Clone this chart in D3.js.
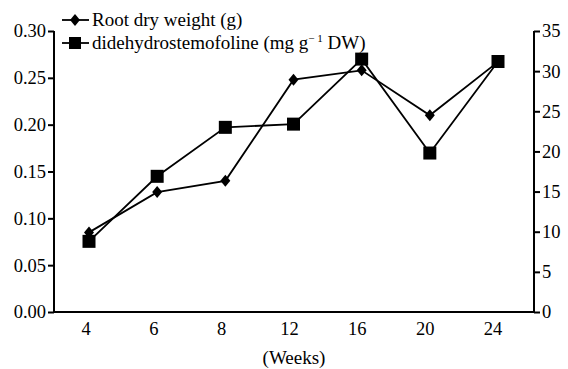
<!DOCTYPE html>
<html>
<head>
<meta charset="utf-8">
<script src="https://cdn.jsdelivr.net/npm/d3@7"></script>
<style>
  body { margin: 0; background: #fff; }
</style>
</head>
<body>
<div id="chart-area"></div>
<script>
const weeks = ["4", "6", "8", "12", "16", "20", "24"];
const rootDryWeight = [0.085, 0.128, 0.140, 0.248, 0.258, 0.210, 0.267];
const didehydro = [8.8, 16.9, 23.0, 23.4, 31.5, 19.8, 31.2];
const leftTicks = [0, 0.05, 0.10, 0.15, 0.20, 0.25, 0.30];
const rightTicks = [0, 5, 10, 15, 20, 25, 30, 35];

const svgWidth = 568, svgHeight = 369;
const plotLeft = 54, plotRight = 534, plotTop = 31, plotBottom = 312;
const serif = "'Liberation Serif', 'Times New Roman', 'DejaVu Serif', serif";

const svg = d3.select("#chart-area")
    .append("svg")
    .attr("width", svgWidth)
    .attr("height", svgHeight)
    .attr("font-family", serif)
    .style("font-family", serif);

const xScale = d3.scalePoint().domain(weeks).range([89, 498]);
const xLabelScale = d3.scalePoint().domain(weeks).range([86, 493]);
const yLeft = d3.scaleLinear().domain([0, 0.30]).range([plotBottom, plotTop]);
const yRight = d3.scaleLinear().domain([0, 35]).range([plotBottom, plotTop]);

// axes
const leftAxis = svg.append("g")
    .attr("transform", `translate(${plotLeft},0)`)
    .call(d3.axisLeft(yLeft).tickValues(leftTicks).tickFormat(d3.format(".2f")).tickSize(6).tickPadding(2));

const rightAxis = svg.append("g")
    .attr("transform", `translate(${plotRight},0)`)
    .call(d3.axisRight(yRight).tickValues(rightTicks).tickFormat(d => d).tickSize(6).tickPadding(2));

[leftAxis, rightAxis].forEach(g => {
    g.attr("font-family", serif).attr("font-size", 18.5);
    g.select(".domain").attr("d", `M0,${plotTop}V${plotBottom}`).attr("stroke", "#000").attr("stroke-width", 2);
    g.selectAll(".tick line").attr("stroke", "#000").attr("stroke-width", 2);
    g.selectAll("text").attr("fill", "#000");
});

svg.append("line")
    .attr("x1", plotLeft).attr("x2", plotRight)
    .attr("y1", plotBottom).attr("y2", plotBottom)
    .attr("stroke", "#000")
    .attr("stroke-width", 2);

svg.append("g")
    .attr("font-size", 18.5)
    .selectAll("text")
    .data(weeks)
    .join("text")
    .attr("x", d => xLabelScale(d))
    .attr("y", 335)
    .attr("text-anchor", "middle")
    .text(d => d);

svg.append("text")
    .attr("x", 294)
    .attr("y", 364)
    .attr("text-anchor", "middle")
    .attr("font-size", 19)
    .text("(Weeks)");

// lines
const rootLine = d3.line().x((d, i) => xScale(weeks[i])).y(d => yLeft(d));
const dideLine = d3.line().x((d, i) => xScale(weeks[i])).y(d => yRight(d));

svg.append("path")
    .datum(rootDryWeight)
    .attr("fill", "none")
    .attr("stroke", "#000")
    .attr("stroke-width", 1.8)
    .attr("d", rootLine);

svg.append("path")
    .datum(didehydro)
    .attr("fill", "none")
    .attr("stroke", "#000")
    .attr("stroke-width", 1.8)
    .attr("d", dideLine);

const diamond = "M0,-6L5,0L0,6L-5,0Z";

svg.append("g")
    .selectAll("path")
    .data(rootDryWeight)
    .join("path")
    .attr("transform", (d, i) => `translate(${xScale(weeks[i])},${yLeft(d)})`)
    .attr("d", diamond)
    .attr("fill", "#000");

svg.append("g")
    .selectAll("rect")
    .data(didehydro)
    .join("rect")
    .attr("x", (d, i) => xScale(weeks[i]) - 6.5)
    .attr("y", d => yRight(d) - 6.5)
    .attr("width", 13)
    .attr("height", 13)
    .attr("fill", "#000");

// legend
const legend = svg.append("g").attr("font-size", 19);
legend.append("line").attr("x1", 62).attr("x2", 89).attr("y1", 20).attr("y2", 20)
    .attr("stroke", "#000").attr("stroke-width", 1.8);
legend.append("path").attr("transform", "translate(75,20)").attr("d", diamond).attr("fill", "#000");
legend.append("text").attr("x", 92).attr("y", 26).text("Root dry weight (g)");

legend.append("line").attr("x1", 62).attr("x2", 89).attr("y1", 43).attr("y2", 43)
    .attr("stroke", "#000").attr("stroke-width", 1.8);
legend.append("rect").attr("x", 69).attr("y", 37).attr("width", 12).attr("height", 12).attr("fill", "#000");
const t2 = legend.append("text").attr("x", 92).attr("y", 49);
t2.append("tspan").text("didehydrostemofoline (mg g");
t2.append("tspan").attr("dy", -7).attr("font-size", 11).text("\u2212\u00a01");
t2.append("tspan").attr("dy", 7).text(" DW)");
</script>
</body>
</html>
